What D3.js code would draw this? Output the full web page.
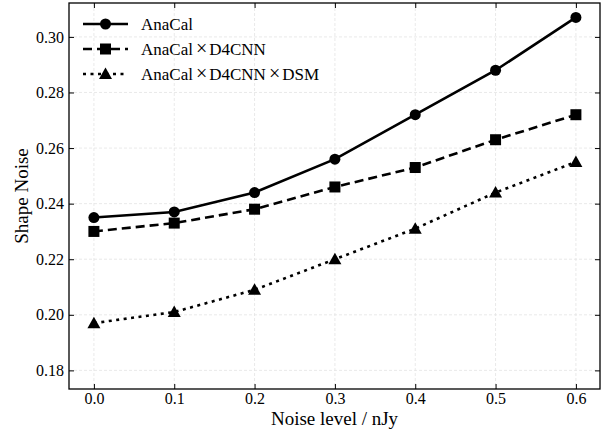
<!DOCTYPE html>
<html><head><meta charset="utf-8">
<script src="https://cdn.jsdelivr.net/npm/d3@7"></script>
<style>body{margin:0;background:#fff}svg{display:block}text{font-family:"Liberation Serif","DejaVu Serif",serif;fill:#000}</style>
</head><body><svg id="c" width="602" height="433"></svg>
<script>
const noiseLevels = [0.0, 0.1, 0.2, 0.3, 0.4, 0.5, 0.6];
const anaCal = [0.235, 0.237, 0.244, 0.256, 0.272, 0.288, 0.307];
const anaCalD4CNN = [0.230, 0.233, 0.238, 0.246, 0.253, 0.263, 0.272];
const anaCalD4CNNDSM = [0.197, 0.201, 0.209, 0.220, 0.231, 0.244, 0.255];
const seriesNames = ["AnaCal", "AnaCal×D4CNN", "AnaCal×D4CNN×DSM"];
const xTicks = [0.0, 0.1, 0.2, 0.3, 0.4, 0.5, 0.6];
const yTicks = [0.18, 0.20, 0.22, 0.24, 0.26, 0.28, 0.30];

const svg = d3.select("#c");
const L = 69, R = 600, T = 3, B = 389;
const x = d3.scaleLinear().domain([-0.031, 0.630]).range([L, R]);
const y = d3.scaleLinear().domain([0.1733, 0.3122]).range([B, T]);

// grid
const g = svg.append("g");
g.selectAll(".gx").data(xTicks).join("line")
  .attr("x1", d => x(d)).attr("x2", d => x(d)).attr("y1", T).attr("y2", B)
  .attr("stroke", "#e3e3e3").attr("stroke-width", 0.8).attr("stroke-dasharray", "3,2");
g.selectAll(".gy").data(yTicks).join("line")
  .attr("y1", d => y(d)).attr("y2", d => y(d)).attr("x1", L).attr("x2", R)
  .attr("stroke", "#e3e3e3").attr("stroke-width", 0.8).attr("stroke-dasharray", "3,2");

// axes with inward ticks
const tl = 5;
const ax = svg.append("g");
function fmtX(d){ return d.toFixed(1); }
function fmtY(d){ return d.toFixed(2); }
const xb = d3.axisBottom(x).tickValues(xTicks).tickSize(-tl).tickPadding(4).tickFormat(fmtX);
const xt = d3.axisTop(x).tickValues(xTicks).tickSize(-tl).tickFormat("");
const yl = d3.axisLeft(y).tickValues(yTicks).tickSize(-tl).tickPadding(5).tickFormat(fmtY);
const yr = d3.axisRight(y).tickValues(yTicks).tickSize(-tl).tickFormat("");
function style(sel){
  sel.attr("font-family", null).attr("font-size", null);
  sel.select(".domain").remove();
  sel.selectAll(".tick line").attr("stroke", "#000").attr("stroke-width", 1);
  sel.selectAll(".tick text").style("font-family", '"Liberation Serif", serif').style("font-size", "16px").attr("fill", "#000");
}
ax.append("g").attr("transform", `translate(0,${B})`).call(xb).call(style);
ax.append("g").attr("transform", `translate(0,${T})`).call(xt).call(style);
ax.append("g").attr("transform", `translate(${L},0)`).call(yl).call(style);
ax.append("g").attr("transform", `translate(${R},0)`).call(yr).call(style);

// lines
const data = [anaCal, anaCalD4CNN, anaCalD4CNNDSM];
const dashes = [null, "9,5", "3,4.5"];
const line = d3.line().x((d, i) => x(noiseLevels[i])).y(d => y(d));
function marker(sel, k, cx, cy){
  if (k === 0) sel.append("circle").attr("cx", cx).attr("cy", cy).attr("r", 5.5);
  else if (k === 1) sel.append("rect").attr("x", cx - 5.5).attr("y", cy - 5.5).attr("width", 11).attr("height", 11);
  else sel.append("path").attr("d", `M${cx},${cy-6.5}L${cx+6.5},${cy+5}L${cx-6.5},${cy+5}Z`);
}
data.forEach((vals, k) => {
  const gg = svg.append("g");
  gg.append("path").datum(vals).attr("d", line).attr("fill", "none").attr("stroke", "#000")
    .attr("stroke-width", 2.6).attr("stroke-dasharray", dashes[k]);
  vals.forEach((v, i) => marker(gg, k, x(noiseLevels[i]), y(v)));
});

// frame
svg.append("rect").attr("x", L).attr("y", T).attr("width", R - L).attr("height", B - T)
  .attr("fill", "none").attr("stroke", "#000").attr("stroke-width", 1.3);

// legend
const leg = svg.append("g");
const rowsY = [24, 49, 74];
seriesNames.forEach((name, k) => {
  const yy = rowsY[k];
  leg.append("line").attr("x1", 83).attr("x2", 128).attr("y1", yy).attr("y2", yy)
    .attr("stroke", "#000").attr("stroke-width", 2.6).attr("stroke-dasharray", dashes[k]);
  marker(leg, k, 105.5, yy);
  const t = leg.append("text").attr("x", 141).attr("y", yy + 6).style("font-size", "17px");
  name.split("×").forEach((part, j) => {
    if (j > 0) t.append("tspan").attr("dx", 3).style("font-size", "20px").text("×");
    t.append("tspan").attr("dx", j > 0 ? 2 : 0).text(part);
  });
});

// axis labels
svg.append("text").attr("x", (L + R) / 2).attr("y", 425).attr("text-anchor", "middle")
  .style("font-size", "19px").text("Noise level / nJy");
svg.append("text").attr("transform", `translate(28,${(T + B) / 2}) rotate(-90)`).attr("text-anchor", "middle")
  .style("font-size", "19px").text("Shape Noise");
</script></body></html>
